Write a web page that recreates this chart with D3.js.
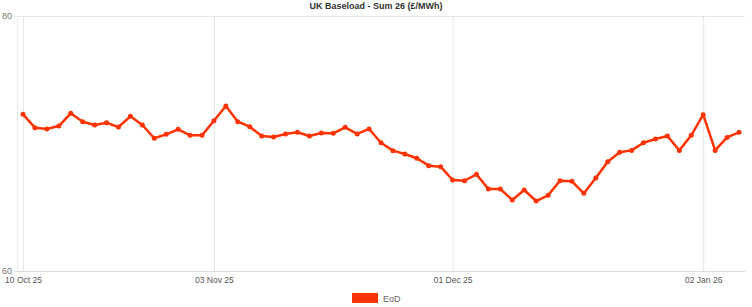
<!DOCTYPE html>
<html>
<head>
<meta charset="utf-8">
<script src="https://cdn.jsdelivr.net/npm/d3@7"></script>
<style>
  html, body { margin: 0; padding: 0; background: #fff; }
  svg { display: block; font-family: "Liberation Sans", Arial, sans-serif; }
</style>
</head>
<body>
<svg id="chart" width="752" height="307"></svg>
<script>
const dates = [
  "2025-10-10","2025-10-13","2025-10-14","2025-10-15","2025-10-16","2025-10-17",
  "2025-10-20","2025-10-21","2025-10-22","2025-10-23","2025-10-24",
  "2025-10-27","2025-10-28","2025-10-29","2025-10-30","2025-10-31",
  "2025-11-03","2025-11-04","2025-11-05","2025-11-06","2025-11-07",
  "2025-11-10","2025-11-11","2025-11-12","2025-11-13","2025-11-14",
  "2025-11-17","2025-11-18","2025-11-19","2025-11-20","2025-11-21",
  "2025-11-24","2025-11-25","2025-11-26","2025-11-27","2025-11-28",
  "2025-12-01","2025-12-02","2025-12-03","2025-12-04","2025-12-05",
  "2025-12-08","2025-12-09","2025-12-10","2025-12-11","2025-12-12",
  "2025-12-15","2025-12-16","2025-12-17","2025-12-18","2025-12-19",
  "2025-12-22","2025-12-23","2025-12-24","2025-12-29","2025-12-30","2025-12-31",
  "2026-01-02","2026-01-05","2026-01-06","2026-01-07"
];
const eod = [
  72.29, 71.24, 71.14, 71.37, 72.37, 71.71, 71.45, 71.63, 71.29, 72.13,
  71.45, 70.41, 70.72, 71.11, 70.64, 70.64, 71.79, 72.94, 71.71, 71.32,
  70.59, 70.51, 70.75, 70.88, 70.59, 70.82, 70.80, 71.27, 70.75, 71.14,
  70.06, 69.44, 69.18, 68.84, 68.26, 68.18, 67.14, 67.08, 67.58, 66.43,
  66.43, 65.57, 66.35, 65.49, 65.94, 67.08, 67.03, 66.09, 67.29, 68.57,
  69.31, 69.46, 70.06, 70.35, 70.59, 69.46, 70.64, 72.26, 69.46, 70.48,
  70.88
];
const tickDates = ["2025-10-10","2025-11-03","2025-12-01","2026-01-02"];
const tickLabels = ["10 Oct 25","03 Nov 25","01 Dec 25","02 Jan 26"];
const yTicks = [60, 80];
const title = "UK Baseload - Sum 26 (£/MWh)";
const seriesName = "EoD";
const color = "#ff3300";

const svg = d3.select("#chart");
const pLeft = 17, pRight = 745, pTop = 16, pBottom = 271;

const x = d3.scalePoint().domain(dates).range([23, 739]);
const y = d3.scaleLinear().domain([60, 80]).range([pBottom, pTop]);

// title
svg.append("text").attr("x", 376).attr("y", 9)
  .attr("text-anchor", "middle").attr("font-size", 9).attr("font-weight", "bold")
  .attr("fill", "#333").text(title);

// horizontal grid + y labels
const yAxis = d3.axisLeft(y).tickValues(yTicks).tickSize(-(pRight - pLeft + 3)).tickPadding(2);
const gy = svg.append("g").attr("transform", `translate(${pLeft - 3},0)`).call(yAxis);
gy.select(".domain").remove();
gy.selectAll(".tick line").attr("stroke", "#e6e6e6").attr("stroke-width", 1);
gy.selectAll(".tick text").attr("fill", "#777").attr("font-size", 9)
  .attr("font-family", "Liberation Sans, Arial, sans-serif");

// left axis line
svg.append("line").attr("x1", pLeft + 0.5).attr("x2", pLeft + 0.5)
  .attr("y1", pTop).attr("y2", pBottom).attr("stroke", "#ececec");

// vertical grid + x labels
const xAxis = d3.axisBottom(x).tickValues(tickDates)
  .tickFormat((d, i) => tickLabels[i]).tickSize(-(pBottom - pTop)).tickPadding(6);
const gx = svg.append("g").attr("transform", `translate(0,${pBottom})`).call(xAxis);
gx.select(".domain").remove();
gx.selectAll(".tick line").attr("stroke", "#e6e6e6").attr("stroke-width", 1);
gx.selectAll(".tick text").attr("fill", "#555").attr("font-size", 8.5)
  .attr("font-family", "Liberation Sans, Arial, sans-serif");

// bottom axis line
svg.append("line").attr("x1", pLeft).attr("x2", pRight)
  .attr("y1", pBottom + 0.5).attr("y2", pBottom + 0.5).attr("stroke", "#dcdcdc");

// line
const line = d3.line().x((d, i) => x(dates[i])).y(d => y(d));
svg.append("path").datum(eod).attr("d", line)
  .attr("fill", "none").attr("stroke", color).attr("stroke-width", 2.5)
  .attr("stroke-linejoin", "round");

svg.append("g").selectAll("circle").data(eod).join("circle")
  .attr("cx", (d, i) => x(dates[i])).attr("cy", d => y(d))
  .attr("r", 2.5).attr("fill", color);

// legend
const lg = svg.append("g");
lg.append("rect").attr("x", 352).attr("y", 293).attr("width", 26).attr("height", 10).attr("fill", color);
lg.append("text").attr("x", 383).attr("y", 301.5).attr("font-size", 9).attr("fill", "#666").text(seriesName);
</script>
</body>
</html>
